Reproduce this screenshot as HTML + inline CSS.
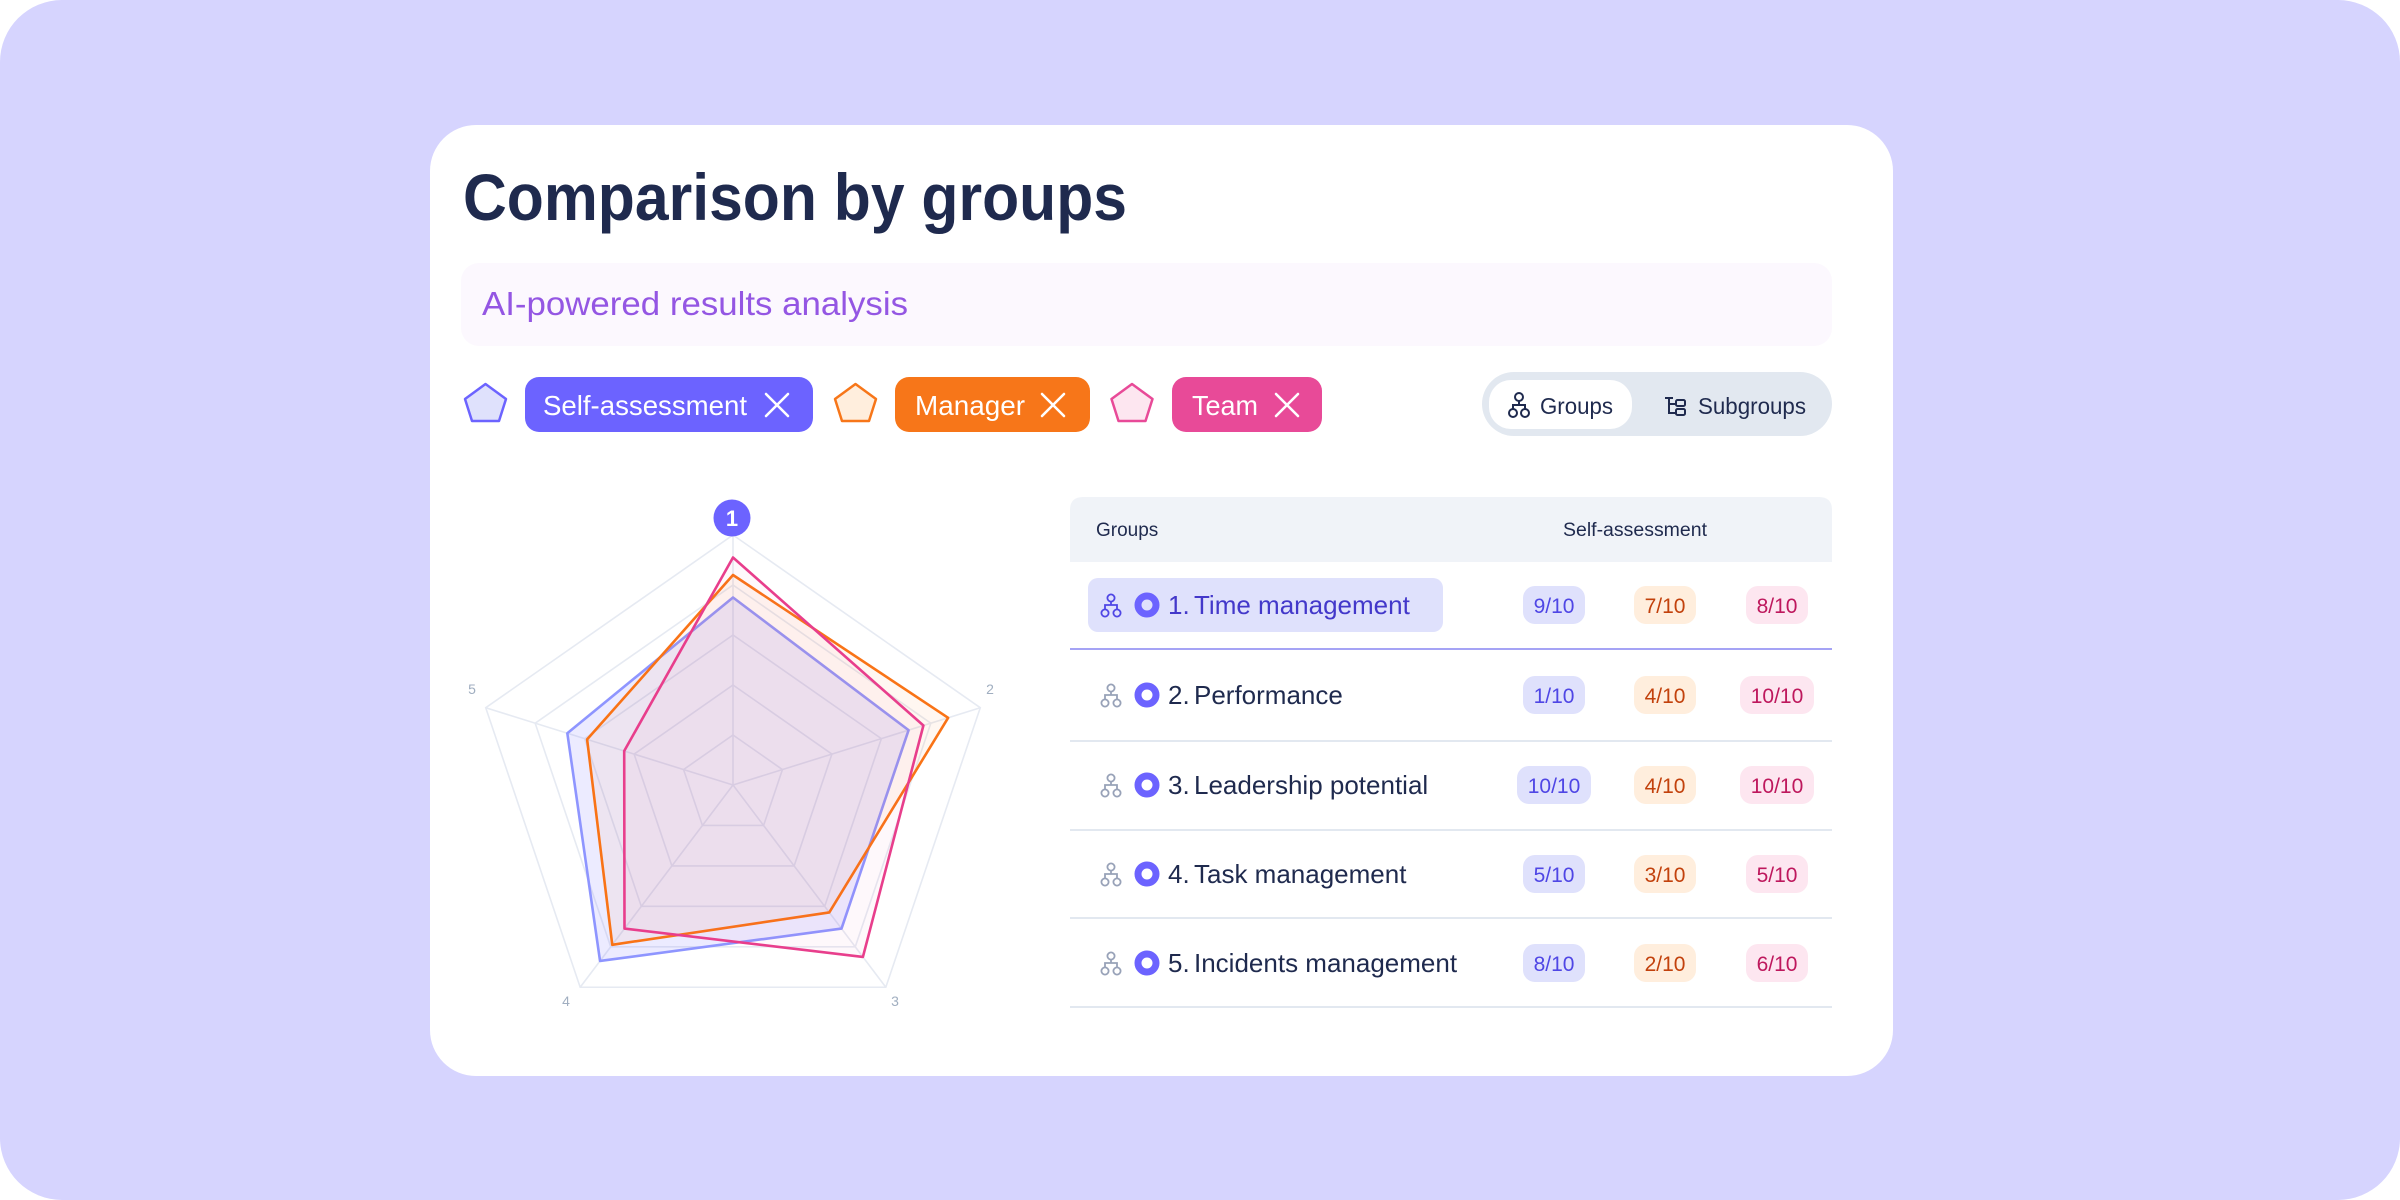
<!DOCTYPE html>
<html><head><meta charset="utf-8"><style>
html,body{margin:0;padding:0;background:#fff;}
svg{display:block;font-family:"Liberation Sans",sans-serif;}
</style></head><body>
<svg id="root" width="2400" height="1200" viewBox="0 0 2400 1200" xmlns="http://www.w3.org/2000/svg">
<rect x="0" y="0" width="2400" height="1200" rx="62" fill="#d6d4fe"/>
<rect x="430" y="125" width="1463" height="951" rx="46" fill="#ffffff"/>
<text x="463" y="220" font-size="66" font-weight="bold" fill="#1f2a4e" textLength="664" lengthAdjust="spacingAndGlyphs">Comparison by groups</text>

<g>
<rect x="461" y="263" width="1371" height="83" rx="18" fill="#fcf8fe"/>
<text x="482" y="315" font-size="33" fill="#9456e3" textLength="426" lengthAdjust="spacingAndGlyphs">AI-powered results analysis</text>
</g>

<g><polygon points="485.5,384 506,399 499,421 472,421 465,399" fill="#dfe1fc" stroke="#6c63ff" stroke-width="2.5" stroke-linejoin="round"/></g>
<g>
<rect x="525" y="377" width="288" height="55" rx="14" fill="#6c63ff"/>
<text x="543" y="415" font-size="28" fill="#fff" textLength="204" lengthAdjust="spacingAndGlyphs">Self-assessment</text>
<path d="M766,394 L788,416 M788,394 L766,416" stroke="#fff" stroke-width="2.6" stroke-linecap="round"/>
</g>
<g><polygon points="855.5,384 876,399 869,421 842,421 835,399" fill="#ffeedd" stroke="#f77619" stroke-width="2.5" stroke-linejoin="round"/></g>
<g>
<rect x="895" y="377" width="195" height="55" rx="14" fill="#f77619"/>
<text x="915" y="415" font-size="28" fill="#fff" textLength="110" lengthAdjust="spacingAndGlyphs">Manager</text>
<path d="M1042,394 L1064,416 M1064,394 L1042,416" stroke="#fff" stroke-width="2.6" stroke-linecap="round"/>
</g>
<g><polygon points="1132,384 1152.5,399 1145.5,421 1118.5,421 1111.5,399" fill="#fde6f0" stroke="#e84a98" stroke-width="2.5" stroke-linejoin="round"/></g>
<g>
<rect x="1172" y="377" width="150" height="55" rx="14" fill="#e84a98"/>
<text x="1192" y="415" font-size="28" fill="#fff" textLength="66" lengthAdjust="spacingAndGlyphs">Team</text>
<path d="M1276,394 L1298,416 M1298,394 L1276,416" stroke="#fff" stroke-width="2.6" stroke-linecap="round"/>
</g>

<g>
<rect x="1482" y="372" width="350" height="64" rx="32" fill="#e2e8f0"/>
<g>
<rect x="1489" y="380" width="143" height="49" rx="22" fill="#fff"/>
<g fill="none" stroke="#1f2a4e" stroke-width="2"><circle cx="1519" cy="397" r="4"/><circle cx="1513" cy="413" r="4"/><circle cx="1525" cy="413" r="4"/><path d="M1519,401 V405 M1513,409 V405 H1525 V409"/></g>
<text x="1540" y="414" font-size="23" fill="#1f2a4e" textLength="73" lengthAdjust="spacingAndGlyphs">Groups</text>
</g>
<g>
<g fill="none" stroke="#1f2a4e" stroke-width="2"><path d="M1669,398 V413 H1676 M1669,404 H1676"/><rect x="1676" y="400" width="9" height="6" rx="1.5"/><rect x="1676" y="409" width="9" height="6" rx="1.5"/><path d="M1665,398 H1673"/></g>
<text x="1698" y="414" font-size="23" fill="#1f2a4e" textLength="108" lengthAdjust="spacingAndGlyphs">Subgroups</text>
</g>
</g>

<g id="radar"></g>

<g>
<path d="M1070,562 V510 Q1070,497 1083,497 H1819 Q1832,497 1832,510 V562 Z" fill="#f0f3f8"/>
<text x="1096" y="536" font-size="19" fill="#1f2a4e">Groups</text>
<text x="1563" y="536" font-size="19" fill="#1f2a4e" textLength="144" lengthAdjust="spacingAndGlyphs">Self-assessment</text>
<rect x="1088" y="578" width="355" height="54" rx="10" fill="#dfe1fc"/>
<g id="rows"></g>
</g>
</svg>
<script>
// ---- radar data ----
const categories = ["1", "2", "3", "4", "5"];
const selfValues = [7.5, 7.1, 7.1, 8.7, 6.7];
const managerValues = [8.4, 8.7, 6.3, 7.9, 5.9];
const teamValues = [9.1, 7.7, 8.5, 7.1, 4.4];
const ringLevels = [2, 4, 6, 8, 10];
const maxValue = 10;

// ---- table data ----
const groupNames = ["Time management", "Performance", "Leadership potential", "Task management", "Incidents management"];
const tableSelf = ["9/10", "1/10", "10/10", "5/10", "8/10"];
const tableManager = ["7/10", "4/10", "4/10", "3/10", "2/10"];
const tableTeam = ["8/10", "10/10", "10/10", "5/10", "6/10"];

const NS = "http://www.w3.org/2000/svg";
function mk(tag, attrs, parent) {
  const e = document.createElementNS(NS, tag);
  for (const k in attrs) e.setAttribute(k, attrs[k]);
  parent.appendChild(e);
  return e;
}

// radar geometry: pentagon, slightly stretched horizontally
const cx = 733, cy = 785, R = 250, SX = 1.04;
function pt(i, v) {
  const a = -Math.PI / 2 + i * 2 * Math.PI / categories.length;
  const f = (v / maxValue) * R;
  return [cx + Math.cos(a) * f * SX, cy + Math.sin(a) * f];
}
const radar = document.getElementById("radar");
ringLevels.forEach(function (lv) {
  const p = categories.map(function (c, i) { return pt(i, lv).join(","); }).join(" ");
  const ring = mk("polygon", { points: p, fill: "none", stroke: "#e6eaf2", "stroke-width": 1.6 }, radar);
  
  
});
categories.forEach(function (c, i) {
  const o = pt(i, maxValue);
  const ax = mk("line", { x1: cx, y1: cy, x2: o[0], y2: o[1], stroke: "#e6eaf2", "stroke-width": 1.6 }, radar);
  
  
});
const series = [
  { vals: selfValues, stroke: "#8e95ff", fill: "rgba(108,99,255,0.13)", name: "series-self-assessment" },
  { vals: managerValues, stroke: "#f97316", fill: "rgba(251,146,60,0.07)", name: "series-manager" },
  { vals: teamValues, stroke: "#e83e8c", fill: "rgba(236,72,153,0.04)", name: "series-team" }
];
series.forEach(function (s) {
  const p = s.vals.map(function (v, i) { return pt(i, v).join(","); }).join(" ");
  const poly = mk("polygon", { points: p, fill: s.fill, stroke: s.stroke, "stroke-width": 2.6, "stroke-linejoin": "round" }, radar);
  
  
});
const labelPos = [null, [990, 694], [895, 1006], [566, 1006], [472, 694]];
categories.forEach(function (c, i) {
  if (i === 0) {
    const g = mk("g", {}, radar);
    
    
    mk("circle", { cx: 732, cy: 518, r: 18.5, fill: "#6c63ff" }, g);
    const t = mk("text", { x: 732, y: 526, "font-size": 22, "font-weight": "bold", fill: "#fff", "text-anchor": "middle" }, g);
    t.textContent = c;
  } else {
    const t = mk("text", { x: labelPos[i][0], y: labelPos[i][1], "font-size": 14, fill: "#a0aec0", "text-anchor": "middle" }, radar);
    
    
    t.textContent = c;
  }
});

// table rows
const rows = document.getElementById("rows");
const rowY = [605, 695, 785, 874, 963];
const lineY = [649, 741, 830, 918, 1007];
const badgeCols = [1554, 1665, 1777];
const badgeStyle = [["#dfe1fc", "#4f46e5"], ["#ffeedd", "#c2410c"], ["#fde6f0", "#be185d"]];
groupNames.forEach(function (name, r) {
  const y = rowY[r];
  const g = mk("g", {}, rows);
  
  
  const ic = r === 0 ? "#4f46e5" : "#98a2b8";
  const hi = mk("g", { fill: "none", stroke: ic, "stroke-width": 1.8 }, g);
  
  
  mk("circle", { cx: 1111, cy: y - 7, r: 3.6 }, hi);
  mk("circle", { cx: 1105, cy: y + 8, r: 3.6 }, hi);
  mk("circle", { cx: 1117, cy: y + 8, r: 3.6 }, hi);
  mk("path", { d: "M1111," + (y - 3.4) + " V" + y + " M1105," + (y + 4.4) + " V" + y + " H1117 V" + (y + 4.4) }, hi);
  const dot = mk("circle", { cx: 1147, cy: y, r: 9, fill: "none", stroke: "#6c63ff", "stroke-width": 7 }, g);
  
  
  const col = r === 0 ? "#4338ca" : "#1f2a4e";
  const num = mk("text", { x: 1168, y: y + 9, "font-size": 26, fill: col }, g);
  num.textContent = (r + 1) + ".";
  const tx = mk("text", { x: 1194, y: y + 9, "font-size": 26, fill: col }, g);
  
  
  tx.textContent = name;
  [tableSelf[r], tableManager[r], tableTeam[r]].forEach(function (val, c) {
    const w = val.length > 4 ? 74 : 62;
    const b = mk("g", {}, g);
    
    
    mk("rect", { x: badgeCols[c] - w / 2, y: y - 19, width: w, height: 38, rx: 12, fill: badgeStyle[c][0] }, b);
    const t = mk("text", { x: badgeCols[c], y: y + 8, "font-size": 21, fill: badgeStyle[c][1], "text-anchor": "middle" }, b);
    t.textContent = val;
  });
  const ln = mk("line", { x1: 1070, y1: lineY[r], x2: 1832, y2: lineY[r], stroke: r === 0 ? "#a5a3f5" : "#e2e8f0", "stroke-width": 2 }, rows);
  
  
});
</script>
</body></html>
